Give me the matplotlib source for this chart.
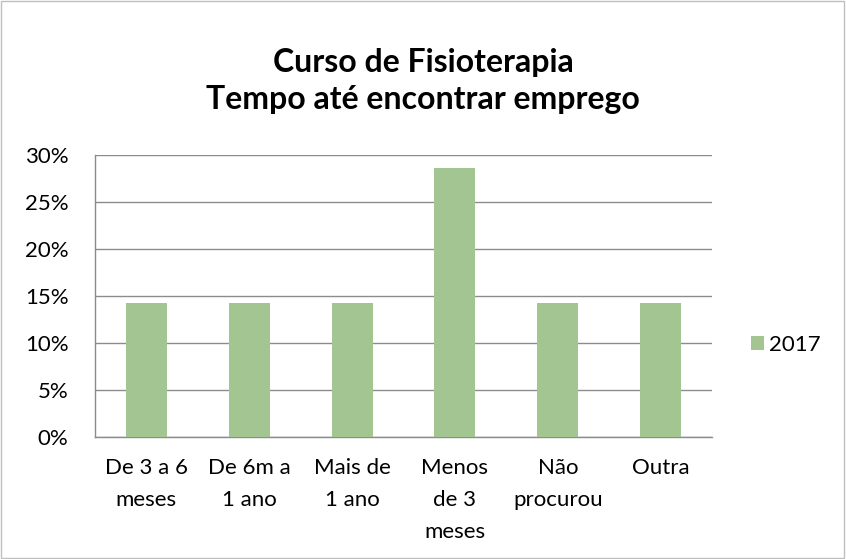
import matplotlib
matplotlib.use("Agg")
import matplotlib.pyplot as plt
from matplotlib.patches import Rectangle
from matplotlib.ticker import FuncFormatter

categories = ["De 3 a 6\nmeses", "De 6m a\n1 ano", "Mais de\n1 ano", "Menos\nde 3\nmeses", "Não\nprocurou", "Outra"]
values_2017 = [14.29, 14.29, 14.29, 28.57, 14.29, 14.29]
series_name = "2017"
title_text = "Curso de Fisioterapia\nTempo até encontrar emprego"

plt.rcParams['font.family'] = ['Lato', 'DejaVu Sans']

fig = plt.figure(figsize=(8.46, 5.59), dpi=100)
ax = fig.add_axes([95/846, 1-437/559, (712-95)/846, (437-155)/559])

x = range(len(categories))
bars = ax.bar(x, values_2017, width=0.4, color="#A2C592", label=series_name, zorder=3)

ax.set_xlim(-0.5, len(categories)-0.5)
ax.set_ylim(0, 30)
ax.set_yticks(range(0, 31, 5))
ax.yaxis.set_major_formatter(FuncFormatter(lambda v, p: f"{int(v)}%"))
ax.set_xticks(list(x))
ax.set_xticklabels(categories, fontsize=16, linespacing=1.77, va='top')
ax.tick_params(axis='y', labelsize=16, length=0, pad=19)
ax.tick_params(axis='x', length=0, pad=15)
ax.grid(axis='y', color='#8C8C8C', linewidth=1, zorder=0)
for s in ['top', 'right']:
    ax.spines[s].set_visible(False)
for s in ['left', 'bottom']:
    ax.spines[s].set_color('#8C8C8C')
    ax.spines[s].set_linewidth(1)

fig.text(423/846, 1-81/559, title_text, ha='center', va='center', fontsize=23,
         fontweight='bold', linespacing=1.33)

fig.legend(handles=[bars], labels=[series_name], loc='center left',
           bbox_to_anchor=(731/846, 1-345/559), frameon=False, fontsize=16,
           handlelength=0.6, handleheight=0.6, handletextpad=0.2)

fig.patches.append(Rectangle((0.001, 0.001), 0.997, 0.997, transform=fig.transFigure,
                             fill=False, edgecolor='#BFBFBF', linewidth=1))

fig.savefig("out.png", dpi=100, facecolor='white')
